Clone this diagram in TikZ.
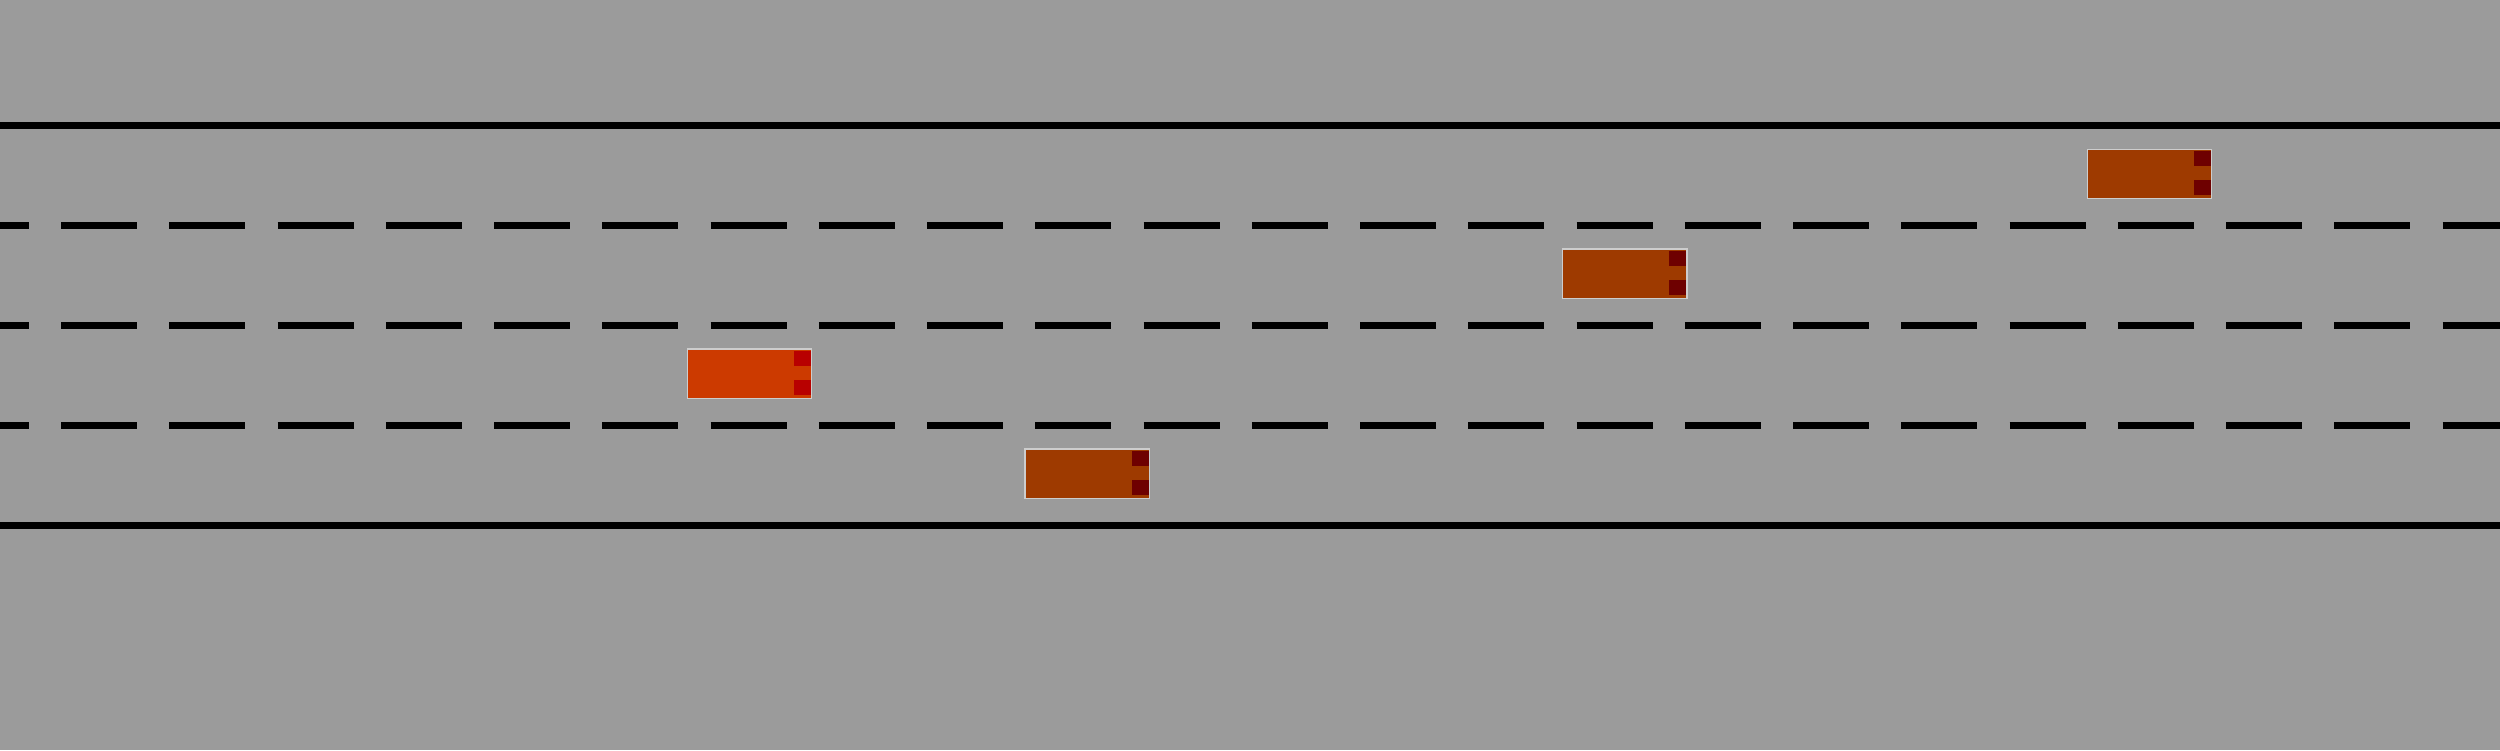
\documentclass[tikz,border=0pt]{standalone}
\definecolor{road}{RGB}{155,155,155}
\definecolor{egobody}{RGB}{204,58,0}
\definecolor{egolight}{RGB}{184,0,0}
\definecolor{carbody}{RGB}{158,58,0}
\definecolor{carlight}{RGB}{110,0,0}
\definecolor{carrim}{RGB}{205,205,205}
\tikzset{
  edge/.style={line width=0.07cm, black},
  lanemark/.style={line width=0.07cm, black, dash pattern=on 0.76cm off 0.3224cm, dash phase=0.47cm},
  body/.style={draw=carrim, line width=0.012cm},
}
\newcommand{\drawcar}[4]{% x, y (top-left, in px), body colour, light colour
  \fill[#3] (#1*0.01, -#2*0.01) rectangle ++(1.244,-0.497);
  \fill[#4] (#1*0.01+1.067, -#2*0.01-0.017) rectangle ++(0.17,-0.15);
  \fill[#4] (#1*0.01+1.067, -#2*0.01-0.31) rectangle ++(0.17,-0.15);
  \draw[body] (#1*0.01, -#2*0.01) rectangle ++(1.244,-0.497);
}
\begin{document}
\begin{tikzpicture}
\fill[road] (0,0) rectangle (25,-7.5);
\useasboundingbox (0,0) rectangle (25,-7.5);
\draw[edge] (0,-1.255) -- (25,-1.255);
\draw[edge] (0,-5.255) -- (25,-5.255);
\foreach \y in {2.255,3.255,4.255} {
  \draw[lanemark] (0,-\y) -- (25,-\y);
}
\drawcar{687.5}{349.2}{egobody}{egolight}
\drawcar{1025.5}{449.2}{carbody}{carlight}
\drawcar{1563.5}{249.2}{carbody}{carlight}
\drawcar{2088.5}{149.2}{carbody}{carlight}
\end{tikzpicture}
\end{document}
